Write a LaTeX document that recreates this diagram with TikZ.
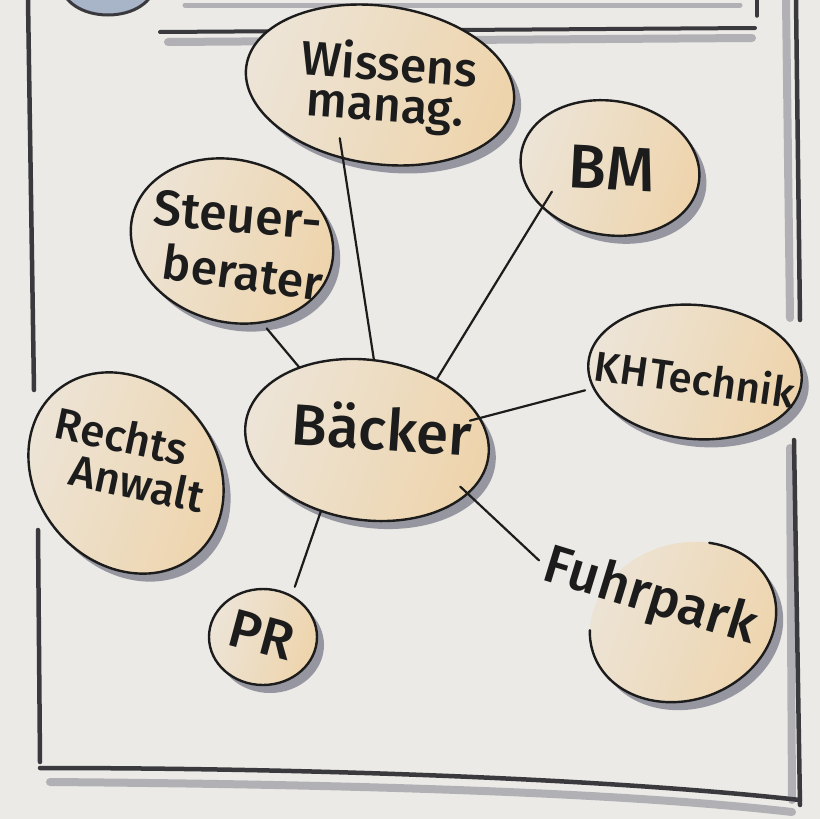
\documentclass[tikz,border=0pt]{standalone}
\usepackage{fontspec}
\IfFontExistsTF{Fira Sans Medium}{\setmainfont{Fira Sans Medium}}{\setmainfont{Fira Sans}}
\usetikzlibrary{shapes.geometric,shadows,calc}
\definecolor{paper}{RGB}{236,234,230}
\definecolor{beige}{RGB}{238,212,172}
\definecolor{shadowc}{RGB}{128,130,142}
\definecolor{ink}{RGB}{28,28,28}
\definecolor{framec}{RGB}{58,58,62}
\definecolor{bluec}{RGB}{168,180,200}
\newcommand{\fsz}[1]{\fontsize{#1}{#1}\selectfont}
\begin{document}
\begin{tikzpicture}[x=1pt,y=1pt,
  bubble/.style={ellipse, draw=ink, line width=2.4pt, inner sep=0pt, outer sep=0pt,
    left color=paper!75!beige, right color=beige, shading angle=70,
    drop shadow={shadow xshift=7pt, shadow yshift=-8pt, fill=shadowc, opacity=0.8}},
  lab/.style={text=ink, inner sep=0pt},
  conn/.style={draw=ink, line width=2.2pt, line cap=round},
  framel/.style={draw=framec, line width=4.5pt, line cap=round},
  frames/.style={draw=shadowc, line width=8pt, line cap=round, opacity=0.55}]
\fill[paper] (0,0) rectangle (820,-819);
\useasboundingbox (0,0) rectangle (820,-819);

% frame of the sheet
\begin{scope}
\clip (0,0) rectangle (820,-819);
\fill[bluec, draw=framec, line width=3pt] (108,15) ellipse [x radius=46, y radius=30];
\draw[frames] (168,-42) -- (752,-38);
\draw[framel, line width=4pt] (160,-32) -- (755,-28);
\draw[frames, line width=5pt] (185,-5) -- (740,-5);
\draw[framel, line width=3.5pt] (757,0) -- (757,-16);
\draw[frames] (786,0) -- (790,-318);
\draw[framel] (796,0) -- (800,-320);
\draw[framel] (28,0) -- (34,-390);
\draw[framel] (38,-530) -- (40,-762);
\draw[frames] (790,-448) -- (792,-800);
\draw[framel] (794,-440) -- (800,-805);
\draw[frames] (50,-782) .. controls (300,-784) and (600,-790) .. (792,-812);
\draw[framel] (40,-768) .. controls (300,-768) and (600,-778) .. (800,-800);
\end{scope}

% bubbles
\node[bubble, minimum width=270pt, minimum height=158pt, rotate=-8] (wissens) at (380,-85) {};
\node[bubble, minimum width=180pt, minimum height=134pt, rotate=-10] (bm) at (610,-168) {};
\node[bubble, minimum width=205pt, minimum height=162pt, rotate=-15] (steuer) at (232,-241) {};
\node[bubble, minimum width=214pt, minimum height=134pt, rotate=-5] (kh) at (695,-372) {};
\node[bubble, minimum width=245pt, minimum height=160pt, rotate=-8] (baecker) at (367,-440) {};
\node[bubble, minimum width=215pt, minimum height=180pt, rotate=-50] (rechts) at (126,-473) {};
\node[bubble, minimum width=108pt, minimum height=96pt] (pr) at (263,-637) {};
\node[bubble, draw=none, minimum width=190pt, minimum height=156pt, rotate=20] (fuhr) at (683,-622) {};
\begin{scope}[shift={(fuhr.center)}, rotate=20]
\draw[ink, line width=2.4pt, line cap=round] (57:95 and 78) arc[start angle=57, end angle=-198, x radius=95, y radius=78];
\end{scope}

% labels
\node[lab, rotate=-4, font=\fsz{48}] (wissensT) at (390,-62) {Wissens};
\node[lab, rotate=-4, font=\fsz{48}] (manageT) at (385,-112) {manag.};
\node[lab, rotate=-3, font=\fsz{62}] (bmT) at (612,-168) {BM};
\node[lab, rotate=-5, font=\fsz{50}] (steuerT) at (238,-215) {Steuer-};
\node[lab, rotate=-8, font=\fsz{48}] (beraterT) at (243,-272) {berater};
\node[lab, rotate=-8, font=\fsz{42}] (khT) at (695,-378) {KH\kern2pt Technik};
\node[lab, rotate=-4, font=\fsz{58}] (baeckerT) at (382,-428) {Bäcker};
\node[lab, rotate=-12, font=\fsz{44}] (rechtsT) at (122,-436) {Rechts};
\node[lab, rotate=-12, font=\fsz{44}] (anwaltT) at (137,-483) {Anwalt};
\node[lab, rotate=-15, font=\fsz{54}] (prT) at (262,-635) {PR};
\node[lab, rotate=-17, font=\fsz{54}] (fuhrT) at (650,-598) {Fuhrpark};

% connectors
\draw[conn, shorten <=-20pt] (wissens.251) -- (baecker.93);
\draw[conn, shorten <=-18pt] (bm.220) -- (baecker.49);
\draw[conn, shorten <=8pt] (steuer.305) -- (baecker.141);
\draw[conn, shorten <=9pt, shorten >=-10pt] (kh.194) -- (baecker.19);
\draw[conn, shorten <=10pt] (pr.55) -- (baecker.245);
\draw[conn, shorten >=-10pt, shorten <=8pt] (fuhrT.west) -- (baecker.340);
\end{tikzpicture}
\end{document}
